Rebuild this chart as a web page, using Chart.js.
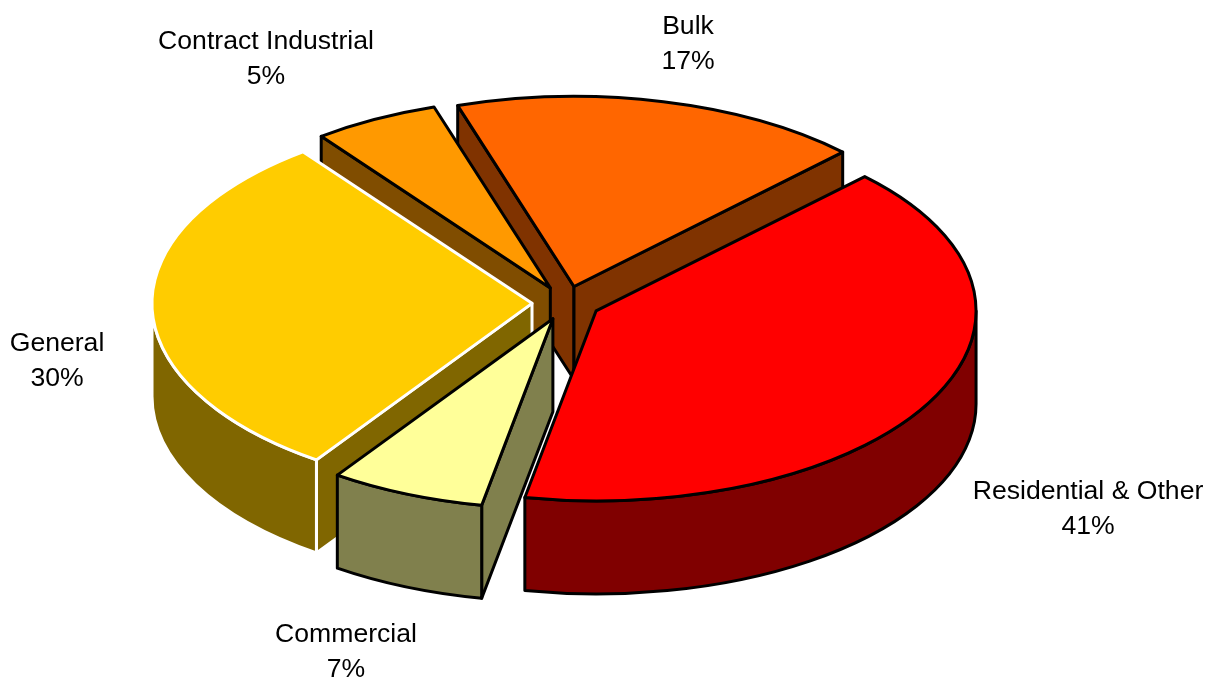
<!DOCTYPE html>
<html>
<head>
<meta charset="utf-8">
<style>
  html, body { margin: 0; padding: 0; background: #fff; }
  #wrap { width: 1209px; height: 679px; }
</style>
<script src="https://cdn.jsdelivr.net/npm/chart.js@4"></script>
</head>
<body>
<div id="wrap"><canvas id="pie" width="1209" height="679"></canvas></div>
<script>
const categories = ["Residential & Other", "Commercial", "General", "Contract Industrial", "Bulk"];
// slice sizes, the labels show them rounded
const shares = [40.5, 6.6, 30.1, 5.35, 17.45];
const topColors = ["#FF0000", "#FFFF99", "#FFCC00", "#FF9900", "#FF6600"];
const wallColors = ["#800000", "#80804D", "#806600", "#804D00", "#803300"];
const edgeColors = ["#000000", "#000000", "#FFFFFF", "#000000", "#000000"];

// back to front, so nearer slices cover the walls behind them
const drawOrder = [4, 3, 2, 1, 0];

// label centre x, first line y
const labelSpots = [
  [1088, 492],
  [346, 635],
  [57, 344],
  [266, 42],
  [688, 27],
];

const tilt = 0.5;
const depth = 93;
const explode = 34;
const edgeWidth = 3;

const pie3d = {
  id: "pie3d",
  beforeDatasetsDraw(chart) {
    const ctx = chart.ctx;
    const arcs = chart.getDatasetMeta(0).data;

    drawOrder.forEach((i) => {
      const arc = arcs[i];
      const mid = (arc.startAngle + arc.endAngle) / 2;
      const cx = arc.x + Math.cos(mid) * explode;
      const cy = arc.y + Math.sin(mid) * explode * tilt;
      const R = arc.outerRadius;
      const rim = (a) => [cx + Math.cos(a) * R, cy + Math.sin(a) * R * tilt];

      ctx.save();
      ctx.lineWidth = edgeWidth;
      ctx.lineJoin = "round";
      ctx.strokeStyle = edgeColors[i];
      ctx.fillStyle = wallColors[i];

      const paint = () => {
        ctx.fill();
        ctx.stroke();
      };

      // flat side faces, only those turned towards the viewer
      [
        [arc.startAngle, arc.startAngle - Math.PI / 2],
        [arc.endAngle, arc.endAngle + Math.PI / 2],
      ].forEach(([a, normal]) => {
        if (Math.sin(normal) <= 0) return;
        const [x, y] = rim(a);
        ctx.beginPath();
        ctx.moveTo(cx, cy);
        ctx.lineTo(x, y);
        ctx.lineTo(x, y + depth);
        ctx.lineTo(cx, cy + depth);
        ctx.closePath();
        paint();
      });

      // curved outer wall on the front half of the ellipse
      const a0 = Math.max(arc.startAngle, 0);
      const a1 = Math.min(arc.endAngle, Math.PI);
      if (a0 < a1) {
        ctx.beginPath();
        ctx.ellipse(cx, cy, R, R * tilt, 0, a0, a1);
        ctx.ellipse(cx, cy + depth, R, R * tilt, 0, a1, a0, true);
        ctx.closePath();
        paint();
      }

      // top face comes from the library's arc, squashed into an ellipse
      ctx.save();
      ctx.translate(cx, cy);
      ctx.scale(1, tilt);
      ctx.translate(-arc.x, -arc.y);
      arc.draw(ctx);
      ctx.restore();

      // outline after restoring so that the line width stays even
      ctx.beginPath();
      ctx.moveTo(cx, cy);
      ctx.ellipse(cx, cy, R, R * tilt, 0, arc.startAngle, arc.endAngle);
      ctx.closePath();
      ctx.stroke();
      ctx.restore();
    });

    return false;
  },
  afterDraw(chart) {
    const ctx = chart.ctx;
    ctx.save();
    ctx.fillStyle = "#000";
    ctx.font = '26.6px "Liberation Sans"';
    ctx.textAlign = "center";
    ctx.textBaseline = "middle";
    categories.forEach((name, i) => {
      const [x, y] = labelSpots[i];
      ctx.fillText(name, x, y);
      ctx.fillText(Math.round(shares[i]) + "%", x, y + 35);
    });
    ctx.restore();
  },
};

new Chart(document.getElementById("pie").getContext("2d"), {
  type: "pie",
  data: {
    labels: categories,
    datasets: [
      {
        data: shares,
        backgroundColor: topColors,
        borderWidth: 0,
      },
    ],
  },
  options: {
    responsive: false,
    animation: false,
    radius: 380,
    rotation: 45,
    layout: { padding: { right: 77, bottom: 73 } },
    plugins: {
      legend: { display: false },
      tooltip: { enabled: false },
    },
  },
  plugins: [pie3d],
});
</script>
</body>
</html>
